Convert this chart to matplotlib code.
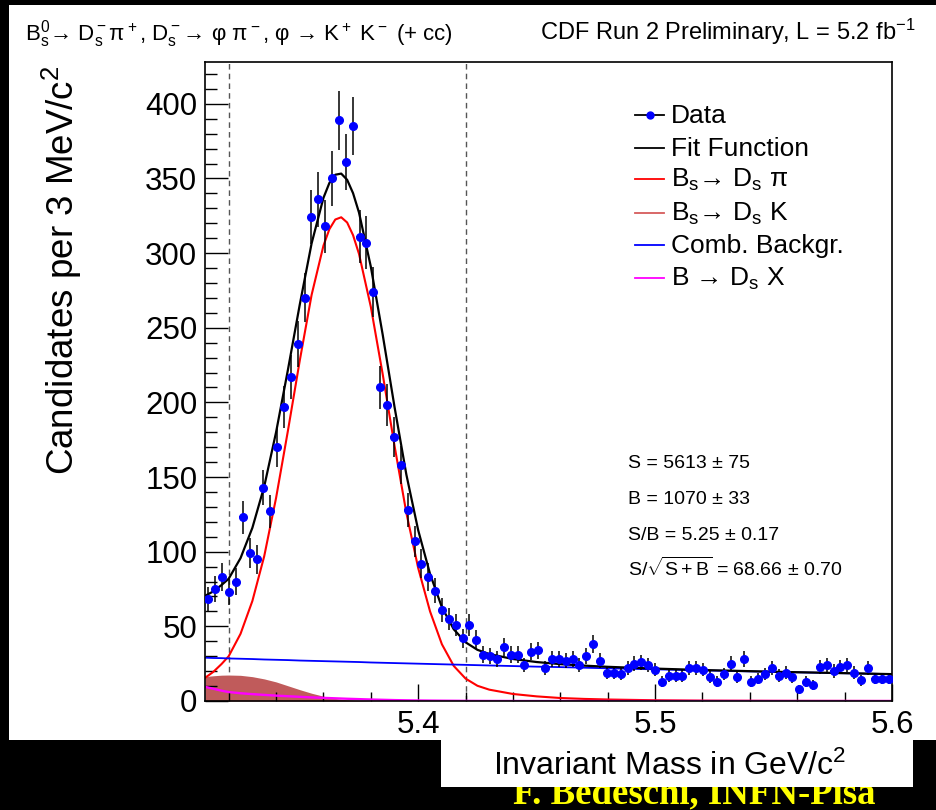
import matplotlib
matplotlib.use('Agg')
import matplotlib.pyplot as plt
from matplotlib.lines import Line2D
from matplotlib.patches import Rectangle
from matplotlib.ticker import MultipleLocator, FormatStrFormatter
import numpy as np

plt.rcParams['font.family'] = ['Liberation Sans', 'DejaVu Sans']
plt.rcParams['mathtext.fontset'] = 'custom'
plt.rcParams['mathtext.rm'] = 'Liberation Sans'
plt.rcParams['mathtext.it'] = 'Liberation Sans:italic'
plt.rcParams['mathtext.bf'] = 'Liberation Sans:bold'

# Bs -> Ds pi candidates, 100 bins between 5.31 and 5.60 GeV/c^2
mass_lo, mass_hi, n_bins = 5.31, 5.60, 100
counts = [68, 75, 83, 73, 80, 123, 99, 95, 143, 127,
          170, 197, 217, 239, 270, 324, 336, 318, 350, 389,
          361, 385, 311, 307, 274, 210, 198, 177, 158, 128,
          107, 92, 83, 74, 61, 55, 51, 42, 51, 41,
          31, 30, 28, 36, 31, 31, 24, 33, 34, 22,
          28, 28, 27, 28, 24, 30, 38, 27, 19, 19,
          18, 22, 25, 26, 24, 21, 13, 17, 17, 17,
          22, 22, 21, 16, 13, 18, 25, 16, 28, 13,
          15, 18, 22, 17, 19, 16, 8, 13, 11, 23,
          24, 20, 23, 24, 19, 14, 22, 15, 15, 15]

# fit components evaluated on a common mass grid
fit_mass = [5.310, 5.3135, 5.317, 5.320, 5.325, 5.330, 5.335, 5.340, 5.345, 5.350,
            5.355, 5.360, 5.3625, 5.365, 5.3675, 5.370, 5.3725, 5.375, 5.380, 5.385,
            5.390, 5.395, 5.400, 5.405, 5.410, 5.415, 5.420, 5.425, 5.430, 5.440,
            5.450, 5.460, 5.470, 5.480, 5.500, 5.520, 5.550, 5.600]
sig_dspi = [15.5, 19.5, 24.8, 30.0, 45.0, 67.0, 97.0, 136.0, 181.0, 228.0,
            272.0, 305.0, 316.0, 322.5, 324.0, 320.5, 312.0, 299.5, 264.0, 219.0,
            171.0, 126.0, 89.0, 60.0, 38.0, 23.5, 15.0, 10.2, 7.6, 4.7,
            3.1, 2.0, 1.4, 1.0, 0.5, 0.25, 0.1, 0.0]
sig_dsk = [16.4, 16.9, 17.3, 17.4, 17.2, 16.3, 14.8, 12.8, 10.2, 7.6,
           5.2, 3.2, 2.4, 1.7, 1.2, 0.8, 0.55, 0.35, 0.12, 0.04,
           0.0, 0.0, 0.0, 0.0, 0.0, 0.0, 0.0, 0.0, 0.0, 0.0,
           0.0, 0.0, 0.0, 0.0, 0.0, 0.0, 0.0, 0.0]
comb_bkg = [29.0, 28.8, 28.7, 28.5, 28.3, 28.1, 27.8, 27.6, 27.4, 27.1,
            26.9, 26.7, 26.6, 26.5, 26.4, 26.3, 26.2, 26.1, 25.8, 25.6,
            25.4, 25.2, 25.0, 24.8, 24.6, 24.4, 24.2, 24.0, 23.8, 23.4,
            23.0, 22.7, 22.3, 21.9, 21.2, 20.5, 19.5, 18.0]
b_dsx = [9.5, 8.2, 6.9, 6.0, 5.2, 4.6, 4.1, 3.6, 3.2, 2.8,
         2.4, 2.1, 1.95, 1.8, 1.65, 1.5, 1.38, 1.25, 1.0, 0.8,
         0.6, 0.45, 0.35, 0.27, 0.2, 0.15, 0.1, 0.07, 0.05, 0.02,
         0.0, 0.0, 0.0, 0.0, 0.0, 0.0, 0.0, 0.0]

# signal window
window = [5.32, 5.42]

stats = ['S = 5613 ± 75',
         'B = 1070 ± 33',
         'S/B = 5.25 ± 0.17',
         r'S/$\sqrt{\mathrm{S+B}}$ = 68.66 ± 0.70']

W, H = 936, 810


def fx(px):
    return px / W


def fy(py):
    return 1 - py / H


fig = plt.figure(figsize=(W / 100, H / 100), dpi=100)
fig.patch.set_facecolor('black')

# white slide panel + the box under the axis title
fig.add_artist(Rectangle((fx(9), fy(740)), fx(936) - fx(9), fy(5) - fy(740),
                         transform=fig.transFigure, facecolor='white',
                         edgecolor='none', zorder=-1))
fig.add_artist(Rectangle((fx(441), fy(787)), fx(913) - fx(441), fy(740) - fy(787),
                         transform=fig.transFigure, facecolor='white',
                         edgecolor='none', zorder=-1))
fig.text(fx(513), fy(803), 'F. Bedeschi, INFN-Pisa', color='#ffff00',
         fontsize=26.5, fontweight='bold', family='Liberation Serif',
         va='baseline', zorder=-2)

ax = fig.add_axes([fx(205), fy(701), fx(892) - fx(205), fy(62) - fy(701)])
ax.set_facecolor('white')

x = np.array(fit_mass)
dspi = np.array(sig_dspi)
dsk = np.array(sig_dsk)
comb = np.array(comb_bkg)
dsx = np.array(b_dsx)
total = dspi + dsk + comb + dsx

for xc in window:
    ax.axvline(xc, color='#555555', ls=(0, (4, 3)), lw=1.0, zorder=1)

ax.fill_between(x, 0, dsk, color='#c05b5b', lw=0, zorder=1.5)
ax.plot(x, dspi, color='#ff0000', lw=1.5, zorder=2)
ax.plot(x, comb, color='#0000ff', lw=1.3, zorder=2)
ax.plot(x, dsx, color='#ff00ff', lw=1.7, zorder=2)
ax.plot(x, total, color='black', lw=1.6, zorder=3)

width = (mass_hi - mass_lo) / n_bins
centers = mass_lo + (np.arange(n_bins) + 0.5) * width
y = np.array(counts, dtype=float)
ax.errorbar(centers, y, yerr=np.sqrt(y), fmt='none', ecolor='black',
            elinewidth=1.1, zorder=4)
ax.errorbar(centers, y, xerr=width / 2, fmt='o', color='#0000ff', ms=5.5,
            elinewidth=1.3, capsize=0, zorder=5)

ax.set_xlim(mass_lo, mass_hi)
ax.set_ylim(0, 428)
ax.xaxis.set_major_locator(MultipleLocator(0.1))
ax.xaxis.set_minor_locator(MultipleLocator(0.02))
ax.xaxis.set_major_formatter(FormatStrFormatter('%.1f'))
ax.yaxis.set_major_locator(MultipleLocator(50))
ax.yaxis.set_minor_locator(MultipleLocator(10))
ax.tick_params(which='both', direction='in', top=False, right=False,
               width=1, colors='black')
ax.tick_params(axis='y', which='major', length=16.5, pad=5.5, labelsize=22.5)
ax.tick_params(axis='y', which='minor', length=8.5)
ax.tick_params(axis='x', which='major', length=12, pad=6.5, labelsize=22.5)
ax.tick_params(axis='x', which='minor', length=6.5)
for sp in ax.spines.values():
    sp.set_linewidth(1.2)

# axis titles
fig.text(fx(62), fy(270), r'Candidates per 3 MeV/c$^2$', rotation=90,
         ha='center', va='center', fontsize=26.5)
fig.text(fx(493), fy(775), r'Invariant Mass in GeV/c$^2$', fontsize=23,
         va='baseline')

# header lines
fig.text(fx(25), fy(40),
         r'B$_\mathrm{s}^\mathrm{0}$→ D$_\mathrm{s}^-$π$^+$, D$_\mathrm{s}^-$→ φ π$^-$, '
         r'φ → K$^+$ K$^-$ (+ cc)', fontsize=16, va='baseline')
fig.text(fx(540), fy(40), r'CDF Run 2 Preliminary, L = 5.2 fb$^{-1}$',
         fontsize=17, va='baseline')

# legend
legend_rows = [(115, 'Data', 'black'),
               (148, 'Fit Function', 'black'),
               (179, r'B$_\mathrm{s}$→ D$_\mathrm{s}$ π', '#ff0000'),
               (213, r'B$_\mathrm{s}$→ D$_\mathrm{s}$ K', '#d65c5c'),
               (245, 'Comb. Backgr.', '#0000ff'),
               (278, r'B → D$_\mathrm{s}$ X', '#ff00ff')]
for ly, label, col in legend_rows:
    fig.add_artist(Line2D([fx(635), fx(664)], [fy(ly), fy(ly)],
                          transform=fig.transFigure, color=col, lw=1.3))
    if label == 'Data':
        fig.add_artist(Line2D([fx(649.5)], [fy(ly)], transform=fig.transFigure,
                              marker='o', ms=5, color='#0000ff', lw=0))
    fig.text(fx(671), fy(ly + 8), label, fontsize=19, va='baseline')

for i, s in enumerate(stats):
    fig.text(fx(628), fy(468 + 36 * i), s, fontsize=14, va='baseline')

fig.savefig('out.png', dpi=100, facecolor='black')
